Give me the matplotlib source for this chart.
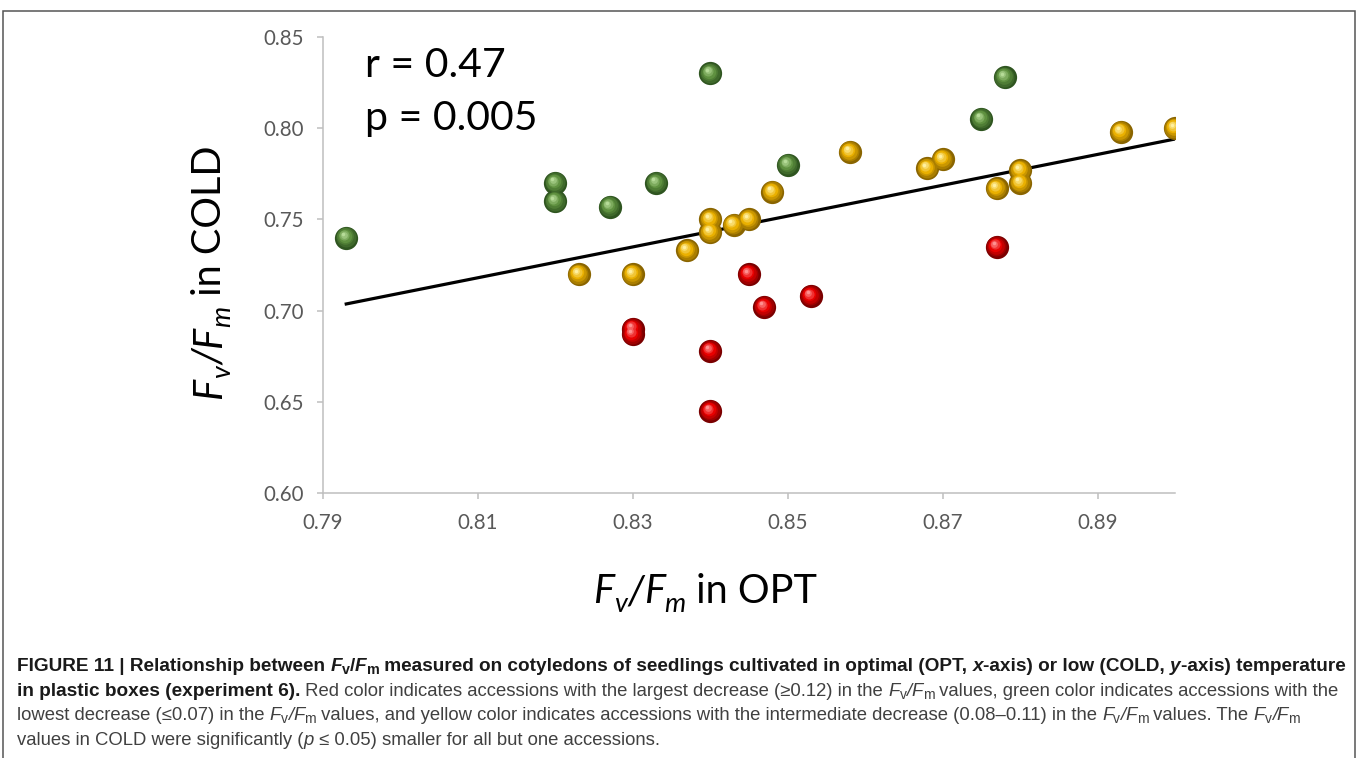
import numpy as np
import matplotlib.pyplot as plt
from matplotlib.transforms import IdentityTransform, ScaledTranslation
from matplotlib.patches import Rectangle
from matplotlib.colors import to_rgb

# Fv/Fm values (x = OPT, y = COLD)
green_x = [0.793, 0.820, 0.820, 0.827, 0.833, 0.840, 0.850, 0.875, 0.878]
green_y = [0.740, 0.770, 0.760, 0.757, 0.770, 0.830, 0.780, 0.805, 0.828]

yellow_x = [0.823, 0.830, 0.837, 0.840, 0.840, 0.843, 0.845, 0.848, 0.858,
            0.868, 0.870, 0.877, 0.880, 0.880, 0.893, 0.900]
yellow_y = [0.720, 0.720, 0.733, 0.750, 0.743, 0.747, 0.750, 0.765, 0.787,
            0.778, 0.783, 0.767, 0.777, 0.770, 0.798, 0.800]

red_x = [0.830, 0.830, 0.840, 0.840, 0.845, 0.847, 0.853, 0.877]
red_y = [0.690, 0.687, 0.678, 0.645, 0.720, 0.702, 0.708, 0.735]

x_ticks = [0.79, 0.81, 0.83, 0.85, 0.87, 0.89]
y_ticks = [0.60, 0.65, 0.70, 0.75, 0.80, 0.85]

stat_text = ["r = 0.47", "p = 0.005"]

W, H = 1358, 758
fig = plt.figure(figsize=(W / 100, H / 100), dpi=100)
ax = fig.add_axes([323 / W, 1 - 493 / H, (1175 - 323) / W, (493 - 37) / H])

LABEL_FONT = ['Lato', 'DejaVu Sans']
CAP_FONT = ['Liberation Sans', 'DejaVu Sans']


def blend(c1, c2, t):
    a, b = np.array(to_rgb(c1)), np.array(to_rgb(c2))
    return tuple(a + (b - a) * t)


def balls(xs, ys, dark, base, light):
    # fake shaded spheres: concentric discs shifted towards the top-left
    n = 7
    for x, y in zip(xs, ys):
        for i in range(n):
            t = i / (n - 1)
            size = 280 * (1 - 0.85 * t) ** 2
            off = ScaledTranslation(-2.2 * t / 72, 2.6 * t / 72, fig.dpi_scale_trans)
            if t < 0.5:
                col = blend(dark, base, t * 2)
            else:
                col = blend(base, light, (t - 0.5) * 2)
            ax.scatter([x], [y], s=size, color=col, linewidths=0,
                       transform=ax.transData + off, zorder=3 + i * 0.01)


balls(green_x, green_y, '#2f5520', '#5f9140', '#b6dc98')
balls(yellow_x, yellow_y, '#8a6500', '#eab000', '#fff0a0')
balls(red_x, red_y, '#7a0000', '#e80000', '#ff9090')

# linear trendline over all points
all_x = np.array(green_x + yellow_x + red_x)
all_y = np.array(green_y + yellow_y + red_y)
k, b = np.polyfit(all_x, all_y, 1)
lx = np.array([all_x.min(), all_x.max()])
ax.plot(lx, k * lx + b, color='black', lw=2.3, zorder=2.5)

ax.set_xlim(0.79, 0.90)
ax.set_ylim(0.60, 0.85)
ax.set_xticks(x_ticks)
ax.set_yticks(y_ticks)
ax.set_xticklabels(['%.2f' % v for v in x_ticks])
ax.set_yticklabels(['%.2f' % v for v in y_ticks])
for s in ['top', 'right']:
    ax.spines[s].set_visible(False)
for s in ['left', 'bottom']:
    ax.spines[s].set_color('#bfbfbf')
    ax.spines[s].set_linewidth(1.1)
ax.tick_params(direction='out', length=4.5, width=1.1, color='#bfbfbf',
               labelcolor='#595959', labelsize=14.8)
ax.tick_params(axis='x', pad=10)
ax.tick_params(axis='y', pad=9)
for lab in ax.get_xticklabels() + ax.get_yticklabels():
    lab.set_family(LABEL_FONT)

fig.text(365 / W, 1 - 77 / H, stat_text[0], fontsize=29.5, family=LABEL_FONT,
         color='black', va='baseline')
fig.text(365 / W, 1 - 130 / H, stat_text[1], fontsize=29.5, family=LABEL_FONT,
         color='black', va='baseline')

fig.canvas.draw()
renderer = fig.canvas.get_renderer()
ident = IdentityTransform()


def measure(text, props):
    t = fig.text(0, 0, '|' + text + '|', transform=ident, **props)
    w1 = t.get_window_extent(renderer).width
    t.set_text('||')
    w2 = t.get_window_extent(renderer).width
    t.remove()
    return w1 - w2


def place(parts, x0, y0, styles, rotate=False, center=False):
    widths = [measure(txt, styles[st][0]) for txt, st in parts]
    pos = x0 - sum(widths) / 2 if center else x0
    for (txt, st), w in zip(parts, widths):
        props, dy = styles[st]
        if rotate:
            fig.text(y0 + dy, pos, txt, transform=ident, rotation=90,
                     rotation_mode='anchor', ha='left', va='baseline', **props)
        else:
            fig.text(pos, y0 - dy, txt, transform=ident,
                     ha='left', va='baseline', **props)
        pos += w


# axis labels
ls = 28.5
lab_styles = {
    'n': (dict(fontsize=ls, family=LABEL_FONT, color='black'), 0),
    'i': (dict(fontsize=ls, family=LABEL_FONT, style='italic', color='black'), 0),
    's': (dict(fontsize=ls * 0.68, family=LABEL_FONT, style='italic', color='black'), 9),
}
lab_parts = [('F', 'i'), ('v', 's'), ('/', 'i'), ('F', 'i'), ('m', 's'), (' in OPT', 'n')]
place(lab_parts, 705, H - 603, lab_styles, center=True)
lab_parts_y = [('F', 'i'), ('v', 's'), ('/', 'i'), ('F', 'i'), ('m', 's'), (' in COLD', 'n')]
place(lab_parts_y, H - 272, 221, lab_styles, rotate=True, center=True)

# caption
cb, cr = 13.7, 13.3
cap_styles = {
    'b': (dict(fontsize=cb, family=CAP_FONT, weight='bold', color='#1a1a1a'), 0),
    'bi': (dict(fontsize=cb, family=CAP_FONT, weight='bold', style='italic', color='#1a1a1a'), 0),
    'bs': (dict(fontsize=cb * 0.75, family=CAP_FONT, weight='bold', color='#1a1a1a'), 3),
    'r': (dict(fontsize=cr, family=CAP_FONT, color='#404040'), 0),
    'i': (dict(fontsize=cr, family=CAP_FONT, style='italic', color='#404040'), 0),
    's': (dict(fontsize=cr * 0.75, family=CAP_FONT, color='#404040'), 3),
}
fvfm_b = [('F', 'bi'), ('v', 'bs'), ('/', 'b'), ('F', 'bi'), ('m', 'bs')]
fvfm = [('F', 'i'), ('v', 's'), ('/', 'i'), ('F', 'i'), ('m', 's')]
cap_lines = [
    [('FIGURE 11 | Relationship between ', 'b')] + fvfm_b +
    [(' measured on cotyledons of seedlings cultivated in optimal (OPT, ', 'b'),
     ('x', 'bi'), ('-axis) or low (COLD, ', 'b'), ('y', 'bi'), ('-axis) temperature', 'b')],
    [('in plastic boxes (experiment 6).', 'b'),
     (' Red color indicates accessions with the largest decrease (\u22650.12) in the ', 'r')] + fvfm +
    [(' values, green color indicates accessions with the', 'r')],
    [('lowest decrease (\u22640.07) in the ', 'r')] + fvfm +
    [(' values, and yellow color indicates accessions with the intermediate decrease (0.08\u20130.11) in the ', 'r')] +
    fvfm + [(' values. The ', 'r')] + fvfm,
    [('values in COLD were significantly (', 'r'), ('p', 'i'),
     (' \u2264 0.05) smaller for all but one accessions.', 'r')],
]
for i, parts in enumerate(cap_lines):
    place(parts, 17, H - (671 + 24.7 * i), cap_styles)

# frame around the figure panel
fig.patches.append(Rectangle((3, -5), W - 6, H - 11 + 5, transform=ident,
                             fill=False, edgecolor='#555555', lw=1.1))

fig.savefig('out.png', dpi=100)
